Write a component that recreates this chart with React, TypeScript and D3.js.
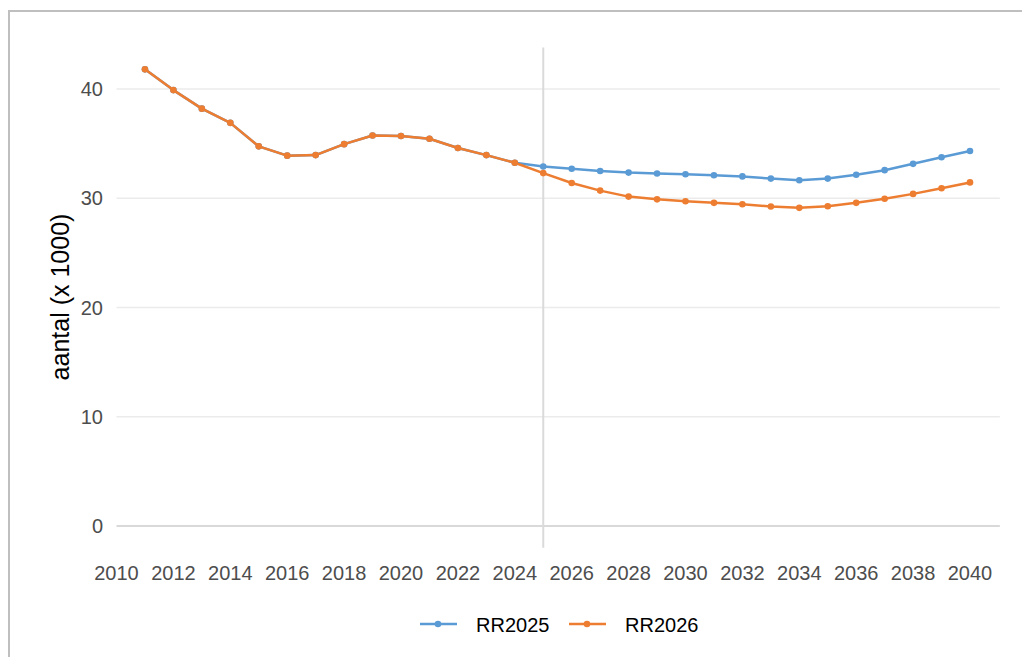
import React from "react";
import * as d3 from "d3";

const years = d3.range(2011, 2041);
const rr2025 = [
  41.8, 39.9, 38.2, 36.9, 34.75, 33.9, 33.95, 34.95, 35.75, 35.7, 35.45, 34.6, 33.95, 33.25,
  32.9, 32.7, 32.5, 32.35, 32.27, 32.2, 32.1, 32.0, 31.8, 31.65, 31.8, 32.15, 32.57, 33.15, 33.75, 34.32,
];
const rr2026 = [
  41.8, 39.9, 38.2, 36.9, 34.75, 33.9, 33.95, 34.95, 35.75, 35.7, 35.45, 34.6, 33.95, 33.25,
  32.3, 31.4, 30.7, 30.15, 29.9, 29.73, 29.58, 29.45, 29.25, 29.12, 29.27, 29.58, 29.95, 30.4, 30.92, 31.45,
];
const xTicks = d3.range(2010, 2041, 2);
const yTicks = [0, 10, 20, 30, 40];
const seriesNames = ["RR2025", "RR2026"];
const seriesColors = ["#5b9bd5", "#ed7d31"];

const FONT = "Arial, 'Liberation Sans', sans-serif";

export default function App() {
  const xScale = d3.scaleLinear().domain([2010, 2040]).range([116.5, 970]);
  const yScale = d3.scaleLinear().domain([0, 40]).range([526, 89]);
  const line = d3
    .line<number>()
    .x((_, i) => xScale(years[i]))
    .y((d) => yScale(d));
  const allSeries = [rr2025, rr2026];

  return (
    <svg
      width={1022}
      height={657}
      style={{ position: "absolute", left: 0, top: 0, background: "#fff" }}
      fontFamily={FONT}
    >
      {/* frame */}
      <path d="M9,660 L9,11 L1030,11" fill="none" stroke="#bfbfbf" strokeWidth={2} />

      {/* gridlines */}
      {yTicks.map((t) => (
        <line
          key={t}
          x1={xScale(2010)}
          x2={xScale(2041.05)}
          y1={yScale(t)}
          y2={yScale(t)}
          stroke={t === 0 ? "#d9d9d9" : "#ebebeb"}
          strokeWidth={t === 0 ? 2 : 1.6}
        />
      ))}
      {/* marker for current year */}
      <line
        x1={xScale(2025)}
        x2={xScale(2025)}
        y1={yScale(43.8)}
        y2={yScale(-2)}
        stroke="#dadada"
        strokeWidth={2}
      />

      {/* y ticks */}
      {yTicks.map((t) => (
        <text
          key={t}
          x={103}
          y={yScale(t)}
          dy="0.35em"
          textAnchor="end"
          fontSize={20}
          fill="#4d4d4d"
        >
          {t}
        </text>
      ))}
      {/* x ticks */}
      {xTicks.map((t) => (
        <text key={t} x={xScale(t)} y={573} dy="0.35em" textAnchor="middle" fontSize={20} fill="#4d4d4d">
          {t}
        </text>
      ))}

      <text
        transform={`translate(60,${297}) rotate(-90)`}
        textAnchor="middle"
        dy="0.35em"
        fontSize={25}
        fill="#000"
      >
        aantal (x 1000)
      </text>

      {/* series */}
      {allSeries.map((s, k) => (
        <g key={k}>
          <path d={line(s) || ""} fill="none" stroke={seriesColors[k]} strokeWidth={2.5} strokeLinejoin="round" />
          {s.map((v, i) => (
            <circle key={i} cx={xScale(years[i])} cy={yScale(v)} r={3.3} fill={seriesColors[k]} />
          ))}
        </g>
      ))}

      {/* legend */}
      {seriesNames.map((name, k) => {
        const x0 = k === 0 ? 420 : 569;
        return (
          <g key={name} transform={`translate(${x0},624)`}>
            <line x1={0} x2={37} y1={0} y2={0} stroke={seriesColors[k]} strokeWidth={2.5} />
            <circle cx={18} cy={0} r={3.3} fill={seriesColors[k]} />
            <text x={56} y={1} dy="0.35em" fontSize={20} fill="#000">
              {name}
            </text>
          </g>
        );
      })}
    </svg>
  );
}
